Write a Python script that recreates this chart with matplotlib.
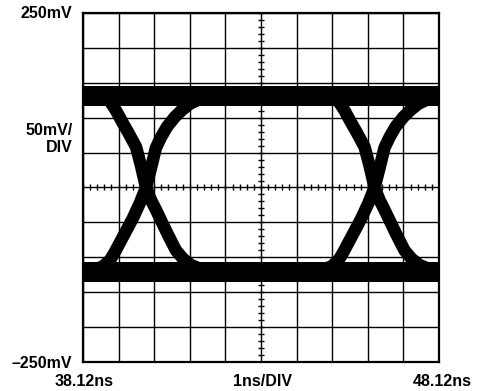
import numpy as np
import matplotlib
matplotlib.use("Agg")
import matplotlib.pyplot as plt

# Screen settings: 10 divisions each way
t_start, t_stop = 38.12, 48.12          # ns
v_min, v_max = -250, 250                # mV
t_div, v_div = 1.0, 50                  # ns/div, mV/div

# Logic levels of the eye (mV)
level_high = 131
level_low = -121

# Crossing instants of the eye (ns)
cross_t = [39.89, 46.31]

# Falling-edge trace relative to a crossing (ns, mV)
fall_t = [-1.12, -0.98, -0.84, -0.67, -0.48, -0.28, -0.14, 0.0, 0.14,
          0.28, 0.42, 0.62, 0.84, 1.04, 1.26, 1.54, 1.82]
fall_v = [131, 121, 110, 94, 77, 58, 31, 0, -18,
          -32, -47, -68, -90, -102, -111, -117, -120]

# Rising-edge trace relative to a crossing (ns, mV)
rise_t = [-1.82, -1.46, -1.21, -1.01, -0.87, -0.62, -0.37, -0.17, 0.0,
          0.14, 0.28, 0.42, 0.59, 0.81, 1.01, 1.23, 1.52, 1.82]
rise_v = [-121, -118, -113, -104, -92, -68, -44, -22, 0,
          28, 57, 72, 87, 101, 111, 120, 127, 130]

W, H = 481, 391
fig = plt.figure(figsize=(W / 100, H / 100), dpi=100)
ax = fig.add_axes([83 / W, 1 - 362 / H, (439 - 83) / W, (362 - 13) / H])
ax.set_xlim(t_start, t_stop)
ax.set_ylim(v_min, v_max)

# Graticule
ax.set_xticks(np.arange(t_start, t_stop + 0.001, t_div))
ax.set_yticks(np.arange(v_min, v_max + 1, v_div))
ax.grid(True, color="black", linewidth=1.0)
ax.tick_params(length=0, labelbottom=False, labelleft=False)
for s in ax.spines.values():
    s.set_linewidth(1.6)
    s.set_zorder(5)

# Center crosshair with 0.2-division sub-ticks
t_mid = (t_start + t_stop) / 2
sub_t = np.arange(t_start, t_stop + 0.001, t_div / 5)
sub_v = np.arange(v_min, v_max + 1, v_div / 5)
ax.plot(sub_t, np.zeros_like(sub_t), ls="none", marker="|", ms=4.5,
        mew=1.0, color="black", zorder=2)
ax.plot(np.full_like(sub_v, t_mid, dtype=float), sub_v, ls="none", marker="_",
        ms=4.5, mew=1.0, color="black", zorder=2)

# Eye diagram traces
trace_kw = dict(color="black", solid_capstyle="round", solid_joinstyle="round", zorder=3)
ax.plot([t_start - 0.5, t_stop + 0.5], [level_high, level_high], lw=14.4, **trace_kw)
ax.plot([t_start - 0.5, t_stop + 0.5], [level_low, level_low], lw=14.4, **trace_kw)
for tc in cross_t:
    ax.plot(tc + np.array(fall_t), fall_v, lw=9.0, **trace_kw)
    ax.plot(tc + np.array(rise_t), rise_v, lw=9.0, **trace_kw)

# Labels
lab = dict(fontfamily="Liberation Sans", fontweight="bold", fontsize=11.5)
fig.text(72 / W, 1 - 13 / H, "250mV", ha="right", va="center", **lab)
fig.text(72 / W, 1 - 363 / H, "\u2013250mV", ha="right", va="center", **lab)
fig.text(72.5 / W, 1 - 139 / H, "50mV/\nDIV", ha="right", va="center",
         multialignment="right", linespacing=1.1, **lab)
fig.text(84 / W, 1 - 382 / H, "38.12ns", ha="center", va="center", **lab)
fig.text(263 / W, 1 - 382 / H, "1ns/DIV", ha="center", va="center", **lab)
fig.text(442 / W, 1 - 382 / H, "48.12ns", ha="center", va="center", **lab)

fig.savefig("out.png", dpi=100)
